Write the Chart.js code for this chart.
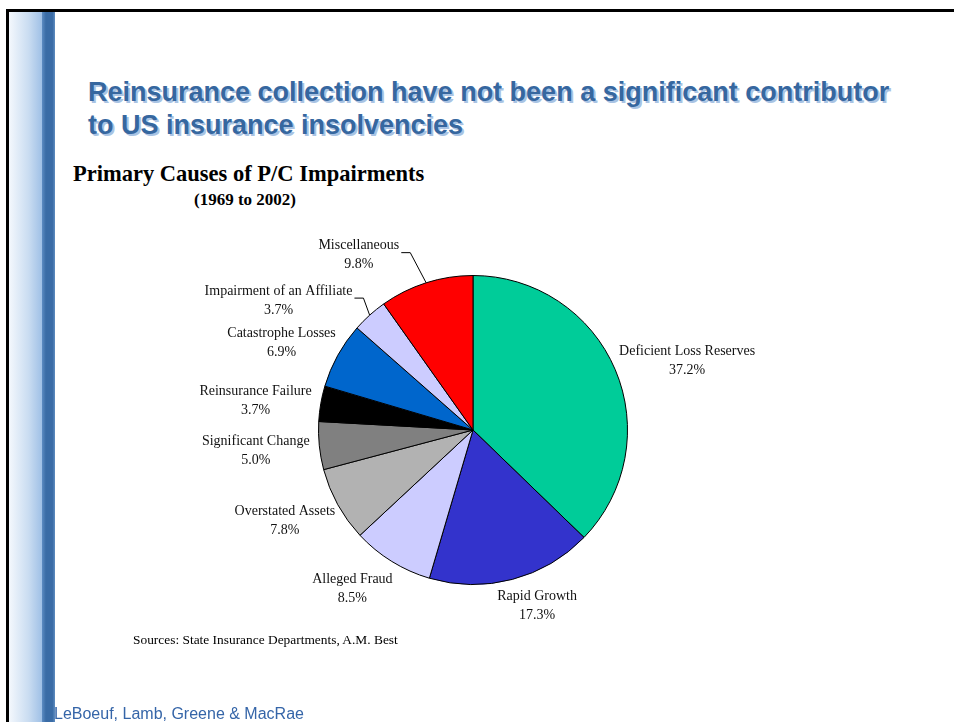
<!DOCTYPE html>
<html lang="en">
<head>
    <meta charset="UTF-8">
    <title>Primary Causes of P/C Impairments</title>
    <script src="https://cdn.jsdelivr.net/npm/chart.js"></script>
    <style>
        html, body { margin: 0; padding: 0; background: #fff; }
        body { width: 954px; height: 722px; position: relative; overflow: hidden; }
        .frame-top { position: absolute; left: 6px; top: 9px; width: 948px; height: 3px; background: #000; }
        .frame-left { position: absolute; left: 6px; top: 9px; width: 3px; height: 713px; background: #000; }
        .band { position: absolute; left: 9px; top: 12px; width: 33px; height: 710px;
                background: linear-gradient(to right, #f4f8fd, #c9dcf1 60%, #9fc0e6); }
        .band-dark { position: absolute; left: 42px; top: 12px; width: 13px; height: 710px;
                     background: linear-gradient(to right, #5d8cc2, #3a6ca6 30%, #3a6ca6 80%, #5f8dc0); }
        .title { position: absolute; left: 88px; top: 76px; font: bold 27px/33px "Liberation Sans", Arial, sans-serif;
                 color: #36679f; text-shadow: 2px 2px 0 #a9c3e3; white-space: nowrap; }
        .chart-title { position: absolute; left: 73px; top: 163px; font: bold 22.5px/22px "Liberation Serif", "Times New Roman", serif; color: #000; white-space: nowrap; }
        .chart-sub { position: absolute; left: 145px; width: 200px; top: 191px; text-align: center;
                     font: bold 17px/17px "Liberation Serif", "Times New Roman", serif; color: #000; }
        .sources { position: absolute; left: 133px; top: 633px; font: 13.4px/13px "Liberation Serif", "Times New Roman", serif; color: #000; white-space: nowrap; }
        .footer { position: absolute; left: 54px; top: 706px; font: 16px/16px "Liberation Sans", Arial, sans-serif; color: #3565a8; white-space: nowrap; }
        #pie { position: absolute; left: 0; top: 0; }
    </style>
</head>
<body>
    <div class="band"></div>
    <div class="band-dark"></div>
    <div class="frame-top"></div>
    <div class="frame-left"></div>
    <div class="title">Reinsurance collection have not been a significant contributor<br>to US insurance insolvencies</div>
    <div class="chart-title">Primary Causes of P/C Impairments</div>
    <div class="chart-sub">(1969 to 2002)</div>
    <canvas id="pie" width="954" height="722"></canvas>
    <div class="sources">Sources: State Insurance Departments, A.M. Best</div>
    <div class="footer">LeBoeuf, Lamb, Greene &amp; MacRae</div>

    <script>
        // slices run clockwise from 12 o'clock
        const causes = [
            'Deficient Loss Reserves', 'Rapid Growth', 'Alleged Fraud', 'Overstated Assets',
            'Significant Change', 'Reinsurance Failure', 'Catastrophe Losses',
            'Impairment of an Affiliate', 'Miscellaneous'
        ];
        const shares = [37.2, 17.3, 8.5, 7.8, 5.0, 3.7, 6.9, 3.7, 9.8];
        const sliceColors = ['#00cc99', '#3333cc', '#ccccff', '#b2b2b2', '#808080', '#000000', '#0066cc', '#ccccff', '#ff0000'];

        // text labels outside each slice; some are moved aside, two of them get a leader line
        const pieLabels = {
            id: 'pieLabels',
            afterDatasetsDraw(chart, args, opts) {
                const ctx = chart.ctx;
                const meta = chart.getDatasetMeta(0);
                ctx.save();
                ctx.font = opts.font;
                ctx.fillStyle = opts.color;
                ctx.strokeStyle = '#000';
                ctx.lineWidth = 1;
                ctx.textAlign = 'center';
                ctx.textBaseline = 'middle';
                meta.data.forEach((arc, i) => {
                    const p = arc.getProps(['x', 'y', 'startAngle', 'endAngle', 'outerRadius'], true);
                    const mid = (p.startAngle + p.endAngle) / 2;
                    const dx = Math.cos(mid), dy = Math.sin(mid);
                    const lines = [chart.data.labels[i], shares[i].toFixed(1) + '%'];
                    const w = Math.max(...lines.map(t => ctx.measureText(t).width));
                    const lh = opts.lineHeight;
                    const h = lh * lines.length;
                    const r = p.outerRadius + opts.gap;
                    let cx = p.x + dx * r + dx * w / 2;
                    let cy = p.y + dy * r + dy * h / 2 + 2;
                    const shift = opts.shifts[i];
                    if (shift) { cx += shift[0]; cy += shift[1]; }
                    lines.forEach((t, k) => ctx.fillText(t, cx, cy - h / 2 + lh * (k + 0.5)));
                    if (opts.leaders.includes(i)) {
                        const ex = p.x + dx * p.outerRadius, ey = p.y + dy * p.outerRadius;
                        const right = cx + ctx.measureText(lines[0]).width / 2;
                        const ly = cy - h / 2 + lh / 2 + 7;
                        ctx.beginPath();
                        ctx.moveTo(ex, ey);
                        ctx.lineTo(right + 11, ly);
                        ctx.lineTo(right + 2, ly);
                        ctx.stroke();
                    }
                });
                ctx.restore();
            }
        };

        new Chart(document.getElementById('pie'), {
            type: 'pie',
            data: {
                labels: causes,
                datasets: [{
                    data: shares,
                    backgroundColor: sliceColors,
                    borderColor: '#000',
                    borderWidth: 1
                }]
            },
            options: {
                responsive: false,
                animation: false,
                events: [],
                layout: { padding: { left: 318, right: 326, top: 275, bottom: 137 } },
                plugins: {
                    legend: { display: false },
                    tooltip: { enabled: false },
                    pieLabels: {
                        font: '14px "Liberation Serif", "Times New Roman", serif',
                        color: '#111',
                        lineHeight: 19,
                        gap: 10,
                        shifts: { 1: [12, -4], 2: [-13, 1], 7: [-35, 5], 8: [-52, -2] },
                        leaders: [7, 8]
                    }
                }
            },
            plugins: [pieLabels]
        });
    </script>
</body>
</html>
